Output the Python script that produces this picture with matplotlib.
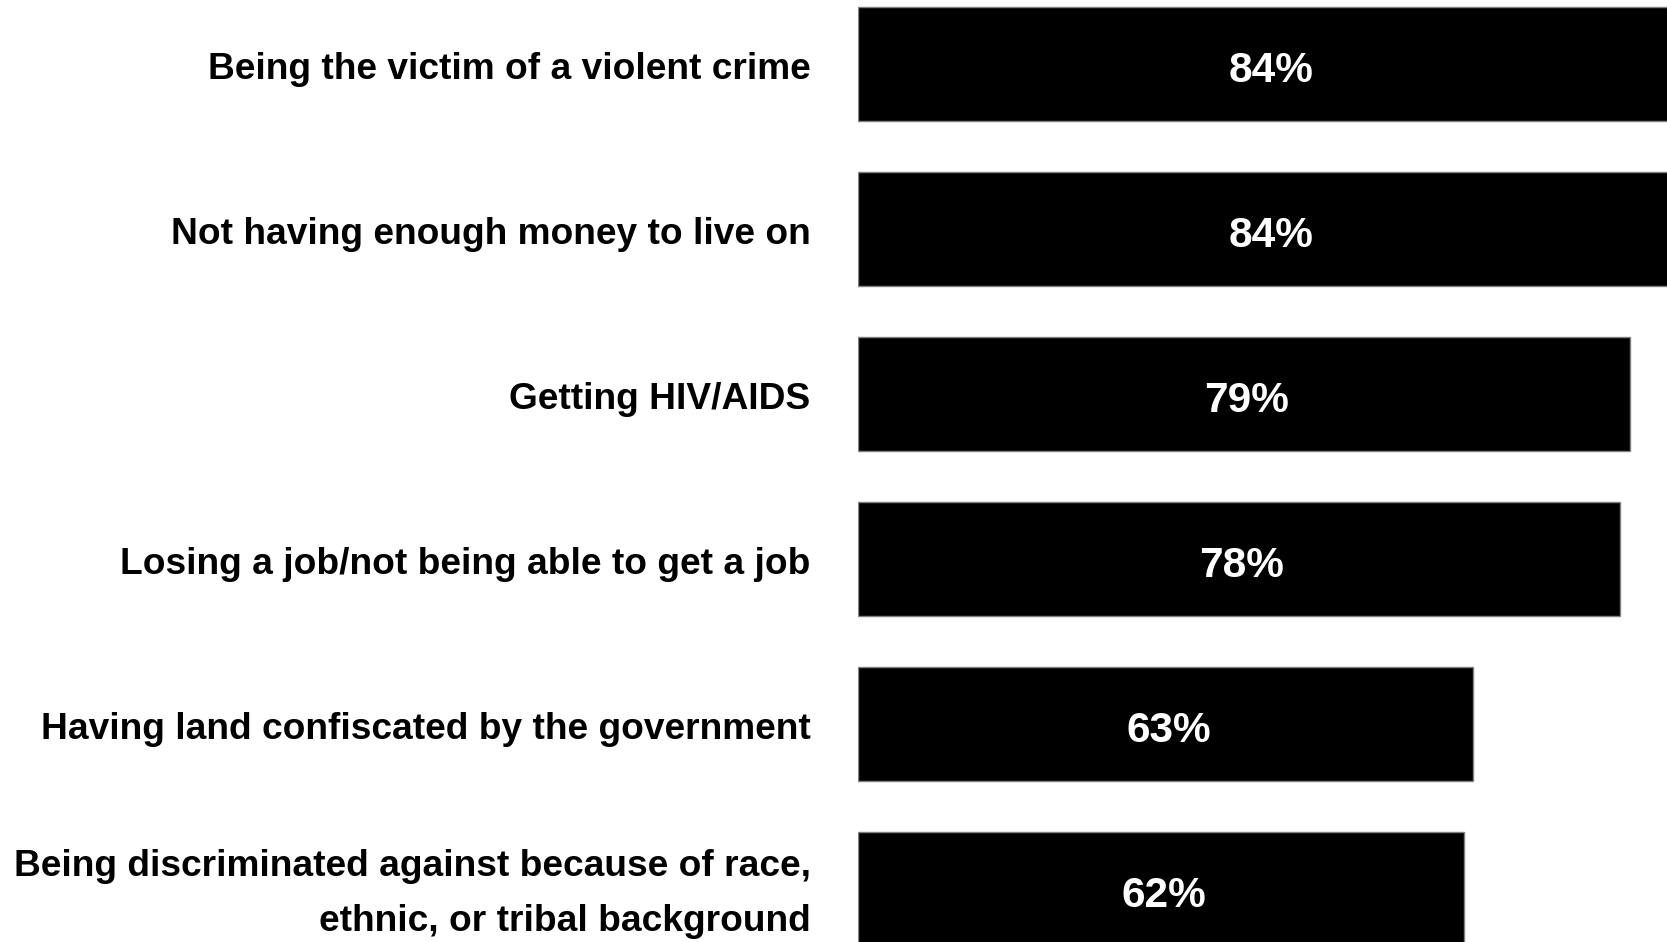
import matplotlib.pyplot as plt

# Share of respondents worried about each issue
categories = [
    'Being the victim of a violent crime',
    'Not having enough money to live on',
    'Getting HIV/AIDS',
    'Losing a job/not being able to get a job',
    'Having land confiscated by the government',
    'Being discriminated against because of race,\nethnic, or tribal background',
]
values = [84, 84, 79, 78, 63, 62]
value_labels = ['84%', '84%', '79%', '78%', '63%', '62%']

plt.rcParams['font.family'] = ['Liberation Sans', 'DejaVu Sans']

fig = plt.figure(figsize=(16.67, 9.42), dpi=100)
ax = fig.add_axes([0.5144, 0.0, 1 - 0.5144, 1.0])

ypos = list(range(len(categories)))
ax.barh(ypos, values, height=0.69, color='black', edgecolor='#808080', linewidth=1.0)

ax.set_xlim(0, 82.8)
ax.set_ylim(5.32, -0.39)

# value labels sit in the middle of each bar
for y, v, lab in zip(ypos, values, value_labels):
    ax.annotate(lab, xy=(v / 2, y), xytext=(3, -7), textcoords='offset pixels',
                color='white', fontsize=30.5, fontweight='bold',
                ha='center', va='center')

# category labels to the left of the bars
for y, cat in zip(ypos, categories):
    ax.annotate(cat, xy=(0, y), xycoords='data', xytext=(-47, -5), textcoords='offset pixels',
                ha='right', va='center', fontsize=26.7, fontweight='bold',
                multialignment='right', linespacing=1.72, annotation_clip=False)

ax.axis('off')
fig.savefig('out.png', dpi=100)
